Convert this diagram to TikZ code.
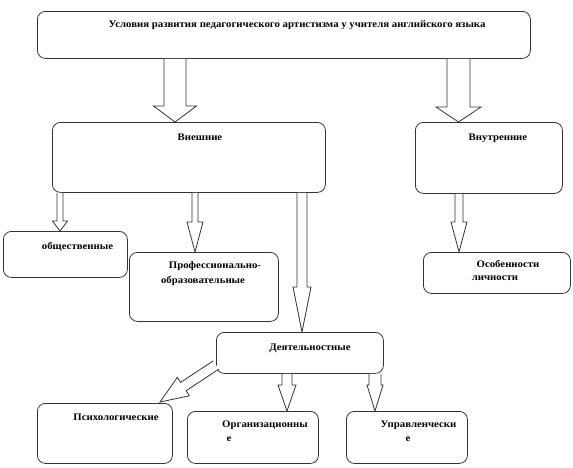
\documentclass[tikz,border=0pt]{standalone}
\usepackage{fontspec}
\setmainfont{Liberation Serif}
\newfontfamily\lblfont[FakeStretch=1.08]{Liberation Serif}
\usetikzlibrary{calc}
\tikzset{
  box/.style={draw=black!80, line width=0.8pt, rounded corners=8pt, fill=white, inner sep=0pt, anchor=north west},
  lbl/.style={font=\lblfont\bfseries\fontsize{10}{12}\selectfont, anchor=base, inner sep=0pt},
  blockarrow/.style={draw=black!80, line width=0.8pt, fill=white, line join=miter}
}
% #1 start, #2 tip, #3 shaft half width, #4 head half width, #5 head length
\newcommand{\barrow}[5]{%
  \coordinate (bA) at ($(#2)!#5!(#1)$);
  \draw[blockarrow] ($(#1)!#3!90:(#2)$) -- ($(bA)!#3!-90:(#1)$) -- ($(bA)!#4!-90:(#1)$) -- (#2)
     -- ($(bA)!#4!90:(#1)$) -- ($(bA)!#3!90:(#1)$) -- ($(#1)!#3!-90:(#2)$);
}
\begin{document}
\begin{tikzpicture}[x=1pt,y=-1pt]
\useasboundingbox (0,0) rectangle (573,467);
% boxes
\node[box, minimum width=493pt, minimum height=47pt] (top) at (37,11) {};
\node[box, minimum width=273pt, minimum height=70pt] (ext) at (52,122) {};
\node[box, minimum width=147pt, minimum height=71pt] (int) at (415,122) {};
\node[box, minimum width=124pt, minimum height=46pt] (obsch) at (3,231) {};
\node[box, minimum width=149pt, minimum height=69pt] (prof) at (129,252) {};
\node[box, minimum width=147pt, minimum height=41pt] (osob) at (423,252) {};
\node[box, minimum width=167pt, minimum height=41pt] (deyat) at (216,332) {};
\node[box, minimum width=135pt, minimum height=60pt] (psych) at (37,403) {};
\node[box, minimum width=131pt, minimum height=52pt] (org) at (187,411) {};
\node[box, minimum width=121pt, minimum height=52pt] (upr) at (346,411) {};
% texts
\node[lbl] (ttop) at (297,27) {Условия развития педагогического артистизма у учителя английского языка};
\node[lbl] (text) at (200,140) {Внешние};
\node[lbl] (tint) at (498,140) {Внутренние};
\node[lbl] (tobsch) at (77.5,249) {общественные};
\node[lbl] (tprof1) at (215,268) {Профессионально-};
\node[lbl] (tprof2) at (203,283) {образовательные};
\node[lbl] (tosob1) at (508,267) {Особенности};
\node[lbl] (tosob2) at (495,280) {личности};
\node[lbl] (tdeyat) at (310,350) {Деятельностные};
\node[lbl] (tpsych) at (116,420) {Психологические};
\node[lbl] (torg1) at (265,427) {Организационны};
\node[lbl] (torg2) at (229,441) {е};
\node[lbl] (tupr1) at (418.5,427) {Управленчески};
\node[lbl] (tupr2) at (408,441) {е};
% arrow end points
\coordinate (a1s) at (top.south -| 175,0);   \coordinate (a1e) at (ext.north -| 175,0);
\coordinate (a2s) at (top.south -| 458.5,0); \coordinate (a2e) at (int.north -| 458.5,0);
\coordinate (a3s) at (ext.south -| 60,0);    \coordinate (a3e) at (obsch.north -| 60,0);
\coordinate (a4s) at (ext.south -| 195,0);   \coordinate (a4e) at (prof.north -| 195,0);
\coordinate (a5s) at (ext.south -| 302,0);   \coordinate (a5e) at (deyat.north -| 302,0);
\coordinate (a6s) at (int.south -| 459,0);   \coordinate (a6e) at (osob.north -| 459,0);
\coordinate (a7s) at (deyat.south -| 287,0); \coordinate (a7e) at (org.north -| 287,0);
\coordinate (a8s) at (deyat.south -| 375,0); \coordinate (a8e) at (upr.north -| 375,0);
\coordinate (a9s) at (deyat.west |- 0,365);  \coordinate (a9e) at (160,402);
% arrows
\barrow{a1s}{a1e}{11pt}{21.5pt}{16pt}
\barrow{a2s}{a2e}{11.5pt}{22.5pt}{15pt}
\barrow{a3s}{a3e}{3pt}{7.5pt}{10pt}
\barrow{a4s}{a4e}{3pt}{8pt}{30pt}
\barrow{a5s}{a5e}{5pt}{9pt}{45pt}
\barrow{a6s}{a6e}{4pt}{8pt}{30pt}
\barrow{a7s}{a7e}{5pt}{9pt}{26pt}
\barrow{a8s}{a8e}{6pt}{8pt}{26pt}
\barrow{a9s}{a9e}{5pt}{11pt}{28pt}
\end{tikzpicture}
\end{document}
